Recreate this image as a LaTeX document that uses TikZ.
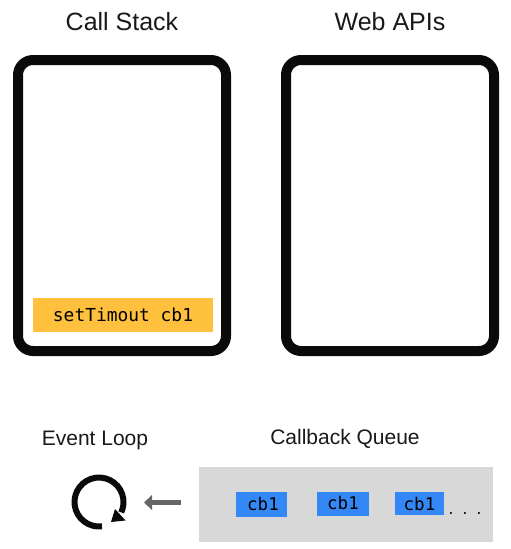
\documentclass[tikz,border=0pt]{standalone}
\usepackage{fontspec}
\setmainfont{Liberation Sans}
\newfontfamily\codefont{DejaVu Sans Mono}
\definecolor{amberfill}{HTML}{FFC13D}
\definecolor{bluefill}{HTML}{3388F5}
\definecolor{greyfill}{HTML}{D8D8D8}
\definecolor{arrowgrey}{HTML}{666666}
\definecolor{inkblack}{HTML}{0A0A0A}
\begin{document}
\begin{tikzpicture}[x=1pt,y=-1pt,
  panel/.style={draw=inkblack,line width=10pt,rounded corners=15pt,fill=white,minimum width=208pt,minimum height=291pt,inner sep=0pt,outer sep=0pt,anchor=north west},
  heading/.style={font=\fontsize{25pt}{28pt}\selectfont,text=black!90,inner sep=0pt},
  subheading/.style={font=\fontsize{21pt}{25pt}\selectfont,text=black!90,inner sep=0pt},
  cbbox/.style={fill=bluefill,inner sep=0pt,outer sep=0pt,anchor=north west,font=\fontsize{17.5pt}{20pt}\selectfont\codefont,text=black},
]
\useasboundingbox (0,0) rectangle (511,549);
\node[panel] (stack) at (18,60) {};
\node[panel] (apis) at (286,60) {};
\node[heading] (stacktitle) at (122,22) {Call Stack};
\node[heading] (apistitle) at (390,22) {Web APIs};
\node[fill=amberfill,inner sep=0pt,outer sep=0pt,minimum width=180pt,minimum height=34pt,anchor=north west,font=\fontsize{17.9pt}{20pt}\selectfont\codefont,text=black] (timeout) at (33,298) {setTimout cb1};
\node[subheading] (looptitle) at (95,440) {Event Loop};
\node[subheading] (queuetitle) at (345,439) {Callback Queue};
\node[fill=greyfill,inner sep=0pt,outer sep=0pt,minimum width=294pt,minimum height=75pt,anchor=north west] (queue) at (199,467) {};
\node[cbbox,minimum width=51pt,minimum height=25pt] (cba) at (236,492) {\hspace{3pt}\raisebox{1.5pt}{cb1}};
\node[cbbox,minimum width=52pt,minimum height=24pt] (cbb) at (317,492) {\raisebox{3pt}{cb1}};
\node[cbbox,minimum width=49pt,minimum height=23pt] (cbc) at (395,492) {cb1};
\node[font=\fontsize{19pt}{20pt}\selectfont,text=black!90,inner sep=0pt] (dots) at (465,513) {.\hspace{8.7pt}.\hspace{8.7pt}.};
\node[circle,minimum size=54pt,inner sep=0pt] (loop) at (99,502) {};
\draw[inkblack,line width=6pt] (loop.center) ++(83:24.5) arc[start angle=83,end angle=385,radius=24.5];
\fill[inkblack] (111,522) -- (115,509) -- (125.5,520.5) -- cycle;
\coordinate (arrowstart) at (180.5,502.5);
\coordinate (arrowend) at (144,502.5);
\draw[arrowgrey,line width=4.5pt] (arrowstart) -- (150,502.5);
\fill[arrowgrey] (arrowend) -- (152,495) -- (152,510) -- cycle;
\end{tikzpicture}
\end{document}
